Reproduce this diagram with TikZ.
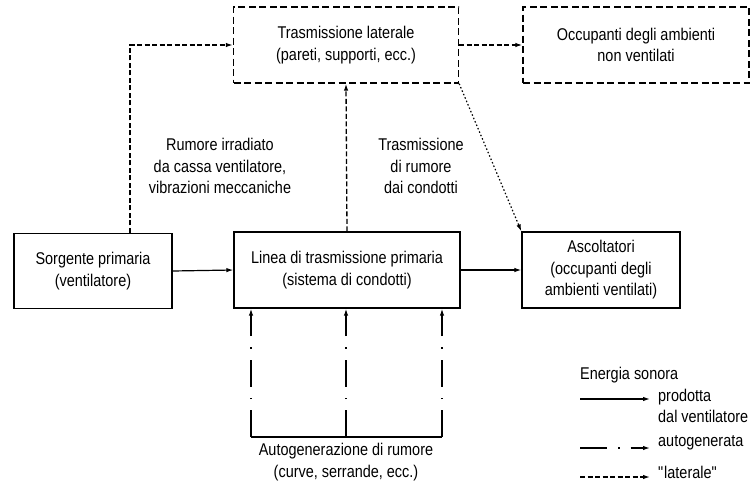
\documentclass[tikz,border=0pt]{standalone}
\usepackage{fontspec}
\setmainfont{Liberation Sans}[FakeStretch=0.85]
\usepackage{tikz}
\usetikzlibrary{arrows.meta,positioning,calc}

\tikzset{
  box/.style={draw, line width=1.3pt, align=center, inner sep=0pt},
  latbox/.style={box, dash pattern=on 7pt off 3.5pt},
  tip/.style={-{Latex[length=7pt,width=4.5pt]}},
  prim/.style={line width=1.2pt, tip},
  lateral/.style={line width=1.3pt, dash pattern=on 5pt off 2.5pt, tip},
  lateraldot/.style={line width=1.2pt, dash pattern=on 1.5pt off 2.2pt, tip},
  autogen/.style={line width=1.3pt, dash pattern=on 27pt off 11pt on 1.5pt off 11pt, tip},
  lbl/.style={align=center}
}

\begin{document}
\begin{tikzpicture}[x=1pt, y=-1pt, font=\fontsize{17}{21.5}\selectfont]
        \useasboundingbox (0,0) rectangle (753,485);

        % Catena principale
        \node [box, minimum width=158pt, minimum height=75pt] (sorgente) at (93,271) {Sorgente primaria\\(ventilatore)};
        \node [box, minimum width=226pt, minimum height=76pt] (linea) at (347,270) {Linea di trasmissione primaria\\(sistema di condotti)};
        \node [box, minimum width=158pt, minimum height=76pt] (ascolt) at (601,270) {Ascoltatori\\(occupanti degli\\ambienti ventilati)};
        \draw [prim] (sorgente.east) -- (linea.west);
        \draw [prim] (linea.east) -- (ascolt.west);

        % Trasmissione laterale
        \node [latbox, minimum width=225pt, minimum height=76pt] (trasm) at (346,45) {Trasmissione laterale\\(pareti, supporti, ecc.)};
        \node [latbox, minimum width=226pt, minimum height=76pt] (occup) at (636,45) {Occupanti degli ambienti\\non ventilati};
        \coordinate (rad) at (130,0);
        \draw [lateral] (sorgente.north -| rad) |- (trasm.west);
        \draw [lateral] (linea.north) -- (trasm.south);
        \draw [lateral] (trasm.east) -- (occup.west);
        \draw [lateraldot] (trasm.south east) -- (ascolt.north west);

        \node [lbl] (irr) at (220,166) {Rumore irradiato\\da cassa ventilatore,\\vibrazioni meccaniche};
        \node [lbl] (cond) at (421,166) {Trasmissione\\di rumore\\dai condotti};

        % Autogenerazione
        \coordinate (ag1) at (251,437);
        \coordinate (ag2) at (346,437);
        \coordinate (ag3) at (442,437);
        \draw [line width=1.3pt] (ag1) -- (ag3);
        \foreach \c in {ag1,ag2,ag3}
          \draw [autogen] (\c) -- (linea.south -| \c);
        \node [lbl] (auto) at (346,462) {Autogenerazione di rumore\\(curve, serrande, ecc.)};

        % Legenda
        \node [anchor=west, inner sep=0pt] (leg) at (580,375) {Energia sonora};
        \coordinate (l1) at (580,399);
        \coordinate (l2) at (580,448);
        \coordinate (l3) at (580,477);
        \draw [prim] (l1) -- ++(70,0) coordinate (l1e);
        \draw [autogen] (l2) -- ++(70,0) coordinate (l2e);
        \draw [lateral] (l3) -- ++(70,0) coordinate (l3e);
        \node [anchor=west, align=left, inner sep=0pt] (lt1) at ($(l1e)+(8,7)$) {prodotta\\dal ventilatore};
        \node [anchor=west, inner sep=0pt] (lt2) at ($(l2e)+(8,-5)$) {autogenerata};
        \node [anchor=west, inner sep=0pt] (lt3) at ($(l3e)+(8,-5)$) {\textquotedbl laterale\textquotedbl};
\end{tikzpicture}
\end{document}
